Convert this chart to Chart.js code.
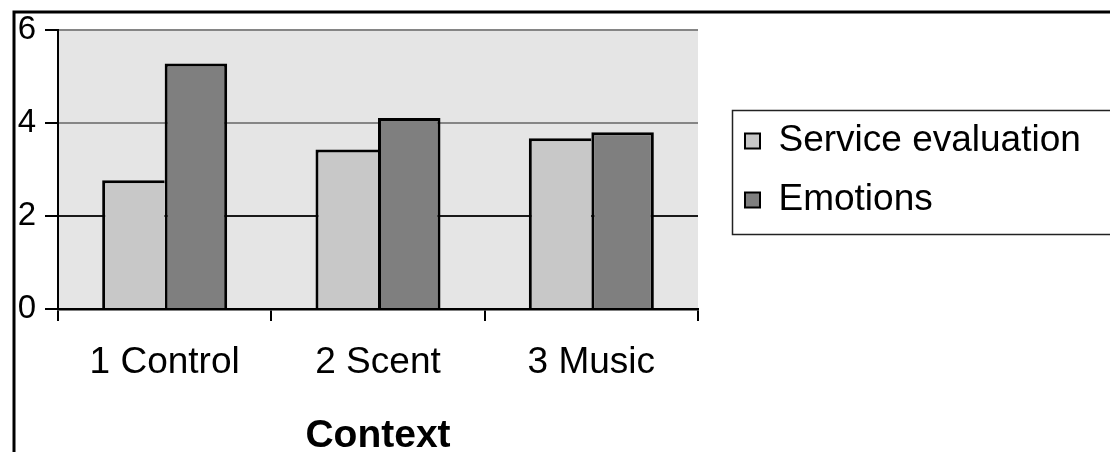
<!DOCTYPE html>
<html>
<head>
<meta charset="utf-8">
<script src="https://cdn.jsdelivr.net/npm/chart.js@4/dist/chart.umd.min.js"></script>
<style>
  html, body { margin: 0; padding: 0; background: #ffffff; }
  canvas { display: block; }
</style>
</head>
<body>
<canvas id="chart" width="1110" height="452"></canvas>
<script>
// Mean ratings per context condition
const categories = ['1 Control', '2 Scent', '3 Music'];
const serviceEvaluation = [2.77, 3.43, 3.67];
const emotions = [5.28, 4.11, 3.80];
const yTickValues = [0, 2, 4, 6];
const seriesNames = ['Service evaluation', 'Emotions'];
const axisTitle = 'Context';

const FONT = '"Liberation Sans", Arial, Helvetica, sans-serif';

// Grey plot background and the outer frame
const backdrop = {
  id: 'backdrop',
  beforeDraw(chart) {
    const { ctx, chartArea: a } = chart;
    ctx.save();
    ctx.fillStyle = '#e5e5e5';
    ctx.fillRect(a.left, a.top, a.right - a.left, a.bottom - a.top);
    ctx.strokeStyle = '#000';
    ctx.lineWidth = 3;
    ctx.beginPath();
    ctx.moveTo(14, 452);
    ctx.lineTo(14, 12);
    ctx.lineTo(1110, 12);
    ctx.stroke();
    ctx.restore();
  }
};

// Legend sits to the right of the plot, inside a bordered box
const legendPlace = {
  id: 'legendPlace',
  afterLayout(chart) {
    const lg = chart.legend;
    lg.left = 723;
    lg.top = 100.5;
    lg.right = 1110;
    lg.bottom = 330;
    lg.width = lg.right - lg.left;
    lg.height = lg.bottom - lg.top;
  },
  afterDraw(chart) {
    const { ctx } = chart;
    ctx.save();
    ctx.strokeStyle = '#222';
    ctx.lineWidth = 1.5;
    ctx.strokeRect(732.5, 110.5, 420, 124);
    ctx.restore();
  }
};

new Chart(document.getElementById('chart'), {
  type: 'bar',
  data: {
    labels: categories,
    datasets: [
      {
        label: seriesNames[0],
        data: serviceEvaluation,
        backgroundColor: '#c8c8c8',
        borderColor: '#000',
        borderWidth: { top: 3, left: 3, right: 0, bottom: 0 },
        borderSkipped: false
      },
      {
        label: seriesNames[1],
        data: emotions,
        backgroundColor: '#7f7f7f',
        borderColor: '#000',
        borderWidth: { top: 3, left: 3, right: 3, bottom: 0 },
        borderSkipped: false
      }
    ]
  },
  options: {
    responsive: false,
    animation: false,
    devicePixelRatio: 1,
    layout: { padding: { left: 18, top: 30, right: 412, bottom: 0 } },
    datasets: { bar: { barPercentage: 1, categoryPercentage: 0.586 } },
    plugins: {
      legend: {
        position: 'chartArea',
        align: 'start',
        labels: {
          color: '#000',
          font: { family: FONT, size: 37 },
          boxWidth: 15,
          boxHeight: 15,
          padding: 22,
          generateLabels(chart) {
            return chart.data.datasets.map((ds, i) => ({
              text: ds.label,
              fillStyle: ds.backgroundColor,
              strokeStyle: '#000',
              lineWidth: 2,
              fontColor: '#000',
              hidden: false,
              datasetIndex: i
            }));
          }
        }
      },
      tooltip: { enabled: false },
      title: { display: false }
    },
    scales: {
      x: {
        offset: true,
        border: { display: true, color: '#000', width: 2.5 },
        grid: {
          offset: true,
          drawOnChartArea: true,
          color: ctx => ctx.index === categories.length ? '#8c8c8c' : 'rgba(0,0,0,0)',
          lineWidth: 2,
          tickColor: '#000',
          tickWidth: 2,
          tickLength: 12
        },
        ticks: {
          color: '#000',
          font: { family: FONT, size: 37 },
          padding: 20,
          maxRotation: 0
        },
        title: {
          display: true,
          text: axisTitle,
          color: '#000',
          font: { family: FONT, size: 39, weight: 'bold', lineHeight: 0.8 },
          padding: { top: 0, bottom: 0 }
        },
        afterFit(scale) { scale.height = 143; }
      },
      y: {
        min: 0,
        max: 6,
        border: { display: true, color: '#000', width: 2 },
        afterBuildTicks(scale) {
          scale.ticks = yTickValues.map(v => ({ value: v }));
        },
        grid: {
          color: ctx => {
            const v = ctx.tick ? ctx.tick.value : null;
            if (v === 0) return 'rgba(0,0,0,0)';
            if (v === 2) return '#1a1a1a';
            return '#858585';
          },
          lineWidth: 2,
          tickColor: '#000',
          tickWidth: 2,
          tickLength: 13
        },
        ticks: {
          color: '#000',
          font: { family: FONT, size: 33 },
          padding: 9
        },
        afterFit(scale) { scale.width = 40; }
      }
    }
  },
  plugins: [backdrop, legendPlace]
});
</script>
</body>
</html>
